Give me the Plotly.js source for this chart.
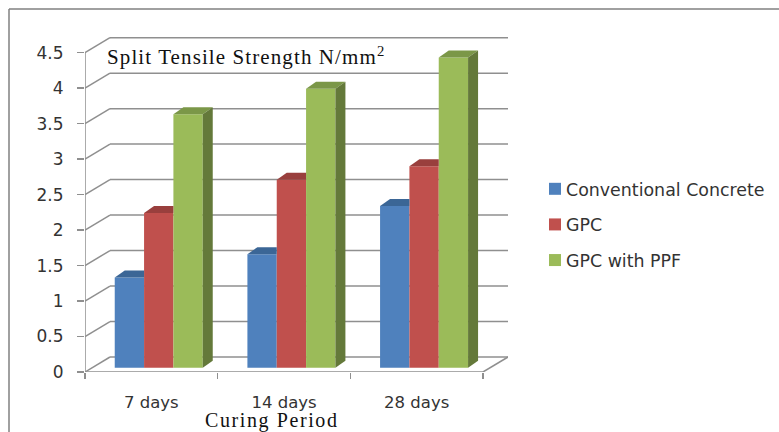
<!DOCTYPE html>
<html><head><meta charset="utf-8">
<script src="https://cdn.plot.ly/plotly-3.0.1.min.js"></script>
<style>html,body{margin:0;padding:0;background:#fff}
.gtitle{letter-spacing:1.1px}.annotation-text{letter-spacing:1.6px}</style></head>
<body><div id="chart" style="width:779px;height:432px"></div>
<script>
// ---- data ----
const categories = ["7 days", "14 days", "28 days"];
const conventional = [1.27, 1.60, 2.28];
const gpc = [2.18, 2.65, 2.84];
const gpcPpf = [3.57, 3.93, 4.37];
const seriesNames = ["Conventional Concrete", "GPC", "GPC with PPF"];
const yTicks = [0, 0.5, 1, 1.5, 2, 2.5, 3, 3.5, 4, 4.5];
const yTickText = ["0", "0.5", "1", "1.5", "2", "2.5", "3", "3.5", "4", "4.5"];

// ---- style ----
const frontColors = ["#4f81bd", "#c0504d", "#9bbb59"];
const topColors = ["#3b6696", "#993f3d", "#7b9748"];
const sideColor = "#64793a";
const gridColor = "#8f8f8f";
const textFont = "'DejaVu Sans', sans-serif";

// ---- pseudo-3D geometry, in axis units ----
const L = 85, R = 508, T = 37, B = 372;
const unitX = 132.67, unitY = 70.96;
const wallDx = 25 / unitX, wallDy = 15 / unitY;   // depth of the floor
const barDx = 10 / unitX, barDy = 7 / unitY;      // depth of a bar
const baseY = 4.3 / unitY, shiftX = 7.4 / unitX;  // bar front stands forward of the back wall
const groupFrac = 88 / unitX, barW = groupFrac / 3;
const nCat = categories.length;
const series = [conventional, gpc, gpcPpf];
const centers = categories.map((_, i) => i + 0.5 + shiftX);

const traces = series.map((vals, s) => ({
  type: "bar", name: seriesNames[s], x: centers, y: vals, base: baseY,
  marker: {color: frontColors[s], line: {width: 0}}, legendgroup: seriesNames[s],
  cliponaxis: false, hoverinfo: "name+y"
}));

function poly(xs, ys, color, s) {
  return {type: "scatter", mode: "lines", x: xs, y: ys, fill: "toself", fillcolor: color,
          line: {width: 0, color: color}, showlegend: false, legendgroup: seriesNames[s],
          cliponaxis: false, hoverinfo: "skip"};
}
series.forEach((vals, s) => vals.forEach((v, c) => {
  const x0 = centers[c] + (s - 1.5) * barW, x1 = x0 + barW, top = v + baseY;
  const last = s === series.length - 1;
  const xr = last ? x1 + barDx : x1;   // a taller neighbour hides the right end of the top face
  traces.push(poly([x0, x0 + barDx, xr, x1, x0], [top, top + barDy, top + barDy, top, top], topColors[s], s));
  if (last) traces.push(poly([x1, x1 + barDx, x1 + barDx, x1, x1],
    [baseY, baseY + barDy, top + barDy, top, baseY], sideColor, s));
}));

function seg(x0, y0, x1, y1, w) {
  return {type: "line", xref: "x", yref: "y", x0, y0, x1, y1, layer: "below",
          line: {color: gridColor, width: w || 1.5}};
}
const shapes = [];
yTicks.forEach(v => {
  shapes.push(seg(0, v, wallDx, v + wallDy));
  shapes.push(seg(wallDx, v + wallDy, nCat + wallDx, v + wallDy));
});
shapes.push(seg(0, 0, 0, yTicks[yTicks.length - 1]));            // front value axis
shapes.push(seg(0, 0, nCat, 0));                                 // front category axis
shapes.push(seg(nCat, 0, nCat + wallDx, wallDy));                // floor, right edge
// outer frame of the figure
const px = v => (v - L) / (R - L), py = v => (B - v) / (B - T);
const frame = {color: "#808080", width: 1.5};
[[9, 9, 779, 9], [9, 9, 9, 432]].forEach(f => shapes.push({type: "line", xref: "paper", yref: "paper",
  x0: px(f[0]), y0: py(f[1]), x1: px(f[2]), y1: py(f[3]), line: frame}));

const layout = {
  width: 779, height: 432, autosize: false,
  margin: {l: L, r: 779 - R, t: T, b: 432 - B, pad: 0, autoexpand: false},
  paper_bgcolor: "#fff", plot_bgcolor: "rgba(0,0,0,0)",
  barmode: "group", bargap: 1 - groupFrac, bargroupgap: 0,
  title: {text: "Split Tensile Strength N/mm<sup>2</sup>", x: 107 / 779, xanchor: "left", y: 1 - 57 / 432, yanchor: "middle",
          font: {family: "'Liberation Serif', serif", size: 21, color: "#111"}},
  xaxis: {type: "linear", range: [0, (R - L) / unitX], tickmode: "array",
          tickvals: categories.map((_, i) => i + 0.5), ticktext: categories,
          ticks: "outside", ticklen: 0, ticklabelstandoff: 15, showgrid: false, zeroline: false, showline: false,
          tickfont: {family: textFont, size: 16.5, color: "#333"},
          minor: {tickmode: "array", tickvals: categories.map((_, i) => i).concat([nCat]), ticks: "outside", ticklen: 6, tickcolor: gridColor, tickwidth: 1.5, showgrid: false}},
  yaxis: {type: "linear", range: [0, (B - T) / unitY], tickmode: "array", tickvals: yTicks, ticktext: yTickText,
          ticks: "outside", ticklen: 7, tickcolor: gridColor, tickwidth: 1.5, ticklabelstandoff: 10,
          showgrid: false, zeroline: false, showline: false,
          tickfont: {family: textFont, size: 17, color: "#333"}},
  legend: {x: px(526), y: py(171), xanchor: "left", yanchor: "top", tracegroupgap: 10,
           entrywidth: 205, entrywidthmode: "pixels",
           font: {family: textFont, size: 17.4, color: "#333"}, bgcolor: "rgba(0,0,0,0)"},
  annotations: [{text: "Curing Period", xref: "paper", yref: "paper", x: px(272), y: py(420.5), xanchor: "center", yanchor: "middle",
                 showarrow: false, font: {family: "'Liberation Serif', serif", size: 20, color: "#111"}}],
  shapes: shapes, showlegend: true
};
Plotly.newPlot("chart", traces, layout, {displayModeBar: false, staticPlot: true}).then(gd => {
  // the reference keeps its legend swatches closer to the labels
  gd.querySelectorAll(".legendsymbols").forEach(g => g.setAttribute("transform", "translate(9,0)"));
});
</script></body></html>
